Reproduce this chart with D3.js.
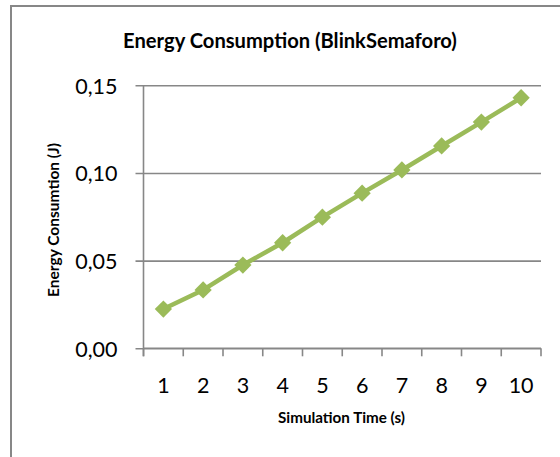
<!DOCTYPE html>
<html><head><meta charset="utf-8">
<script src="https://cdn.jsdelivr.net/npm/d3@7"></script>
<style>html,body{margin:0;padding:0;background:#fff;}svg{display:block;}</style>
</head><body>
<svg id="c" width="560" height="457"></svg>
<script>
const categories = [1,2,3,4,5,6,7,8,9,10];
const energy = [0.0224,0.0333,0.0475,0.0602,0.0748,0.0885,0.1017,0.1154,0.1290,0.1429];
const yTicks = [0,0.05,0.10,0.15];
const title = "Energy Consumption (BlinkSemaforo)";
const xTitle = "Simulation Time (s)";
const yTitle = "Energy Consumtion (J)";

const svg = d3.select("#c");
const font = "Lato, 'Open Sans', sans-serif";
const grey = "#878787";
const green = "#9bbb59";

function fit(sel, w){
  const n = sel.node();
  let fs = parseFloat(sel.attr("font-size"));
  const len = n.getComputedTextLength();
  if(len>0){ sel.attr("font-size", fs*w/len); }
}

svg.append("rect").attr("x",11).attr("y",6).attr("width",600).attr("height",500)
  .attr("fill","#fff").attr("stroke",grey).attr("stroke-width",2);

const L=143.5, R=541, T=85.3, B=348.3;
const x = d3.scaleBand().domain(categories).range([L,R]);
const y = d3.scaleLinear().domain([0,0.15]).range([B,T]);

// gridlines
const yAxis = d3.axisLeft(y).tickValues(yTicks).tickSize(-(R-L)).tickSizeOuter(0)
  .tickFormat(d=>d3.format(".2f")(d).replace(".",",")).tickPadding(26);
const gy = svg.append("g").attr("transform",`translate(${L},0)`).call(yAxis);
gy.select(".domain").remove();
gy.selectAll(".tick line").attr("stroke",grey).attr("stroke-width",1.6).attr("x1",-8);
gy.selectAll(".tick text").attr("font-family",font).attr("font-size",21.5).attr("fill","#000").attr("dy","0.36em");
svg.append("line").attr("x1",L).attr("x2",L).attr("y1",T).attr("y2",B+8).attr("stroke",grey).attr("stroke-width",1.6);

// x axis
const bounds = categories.map(c=>x(c)).concat([R]);
svg.append("line").attr("x1",L).attr("x2",R).attr("y1",B).attr("y2",B).attr("stroke",grey).attr("stroke-width",1.6);
svg.append("g").selectAll("line").data(bounds).join("line")
  .attr("x1",d=>d).attr("x2",d=>d).attr("y1",B).attr("y2",B+8).attr("stroke",grey).attr("stroke-width",1.6);
svg.append("g").selectAll("text").data(categories).join("text")
  .attr("x",d=>x(d)+x.bandwidth()/2).attr("y",385).attr("dy","0.36em")
  .attr("text-anchor","middle").attr("font-family",font).attr("font-size",21.5).text(d=>d);

// line
const line = d3.line().x((d,i)=>x(categories[i])+x.bandwidth()/2).y(d=>y(d));
svg.append("path").datum(energy).attr("d",line).attr("fill","none").attr("stroke",green)
  .attr("stroke-width",4.5).attr("stroke-linejoin","round");
const sym = d3.symbol().type(d3.symbolDiamond2).size(190);
svg.append("g").selectAll("path").data(energy).join("path")
  .attr("transform",(d,i)=>`translate(${x(categories[i])+x.bandwidth()/2},${y(d)})`)
  .attr("d",sym).attr("fill",green);

// titles
const t = svg.append("text").attr("x",290).attr("y",48).attr("text-anchor","middle")
  .attr("font-family",font).attr("font-weight","bold").attr("font-size",16).text(title);
fit(t,334);
const xt = svg.append("text").attr("x",341.5).attr("y",423).attr("text-anchor","middle")
  .attr("font-family",font).attr("font-weight","bold").attr("font-size",12).text(xTitle);
fit(xt,127);
const yt = svg.append("text").attr("transform","translate(59,220) rotate(-90)").attr("text-anchor","middle")
  .attr("font-family",font).attr("font-weight","bold").attr("font-size",12).text(yTitle);
fit(yt,154);
</script>
</body></html>
